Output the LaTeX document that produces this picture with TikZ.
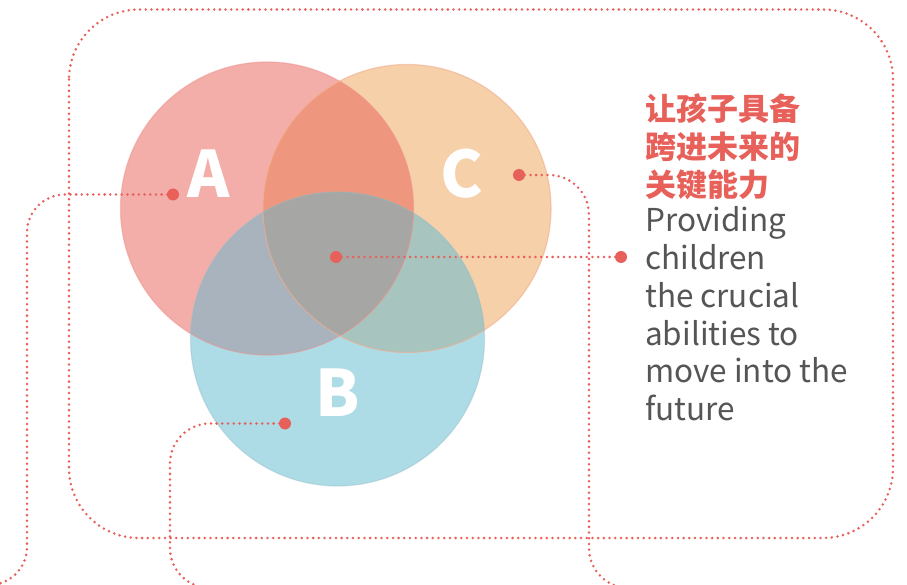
\documentclass[tikz,border=0pt]{standalone}
\usepackage{fontspec}
\usepackage{xcolor}
\usepackage{tikz}
\usetikzlibrary{positioning}
\newfontfamily\cjk{Noto Sans CJK SC}

\definecolor{accent}{HTML}{E8605A}
\definecolor{textgray}{HTML}{555555}
\definecolor{fillA}{HTML}{F3AEAA}
\definecolor{fillB}{HTML}{ADDCE7}
\definecolor{fillC}{HTML}{F6D0A9}
\definecolor{fillAB}{HTML}{A8B3BD}
\definecolor{fillAC}{HTML}{EE977E}
\definecolor{fillBC}{HTML}{A8C4BE}
\definecolor{fillABC}{HTML}{A6A6A4}

\tikzset{
    link/.style={accent, line width=2.8pt, line cap=round, dash pattern=on 0pt off 5.7pt, rounded corners=38pt},
    dot/.style={circle, fill=accent, inner sep=0pt, minimum size=12pt},
    letter/.style={anchor=base, text=white, font=\cjk\bfseries\fontsize{64}{64}\selectfont},
    cntitle/.style={anchor=base west, inner sep=0pt, text=accent, font=\cjk\bfseries\fontsize{31}{31}\selectfont},
    entext/.style={anchor=base west, inner sep=0pt, text=textgray, font=\cjk\fontsize{31.5}{31.5}\selectfont},
}

\begin{document}
\begin{tikzpicture}[x=1pt, y=-1pt]
    \useasboundingbox (0,0) rectangle (907,585);
    \clip (0,0) rectangle (907,585);

    % Venn circles
    \coordinate (A) at (267,208.5);
    \coordinate (B) at (337.5,339);
    \coordinate (C) at (407,208.5);
    \fill[fillA] (A) circle[radius=146.5pt];
    \fill[fillC] (C) circle[radius=144pt];
    \fill[fillB] (B) circle[radius=147pt];

    % Overlaps
    \begin{scope}
        \clip (C) circle[radius=144pt];
        \fill[fillBC] (B) circle[radius=147pt];
    \end{scope}
    \begin{scope}
        \clip (A) circle[radius=146.5pt];
        \fill[fillAC] (C) circle[radius=144pt];
        \fill[fillAB] (B) circle[radius=147pt];
        \clip (C) circle[radius=144pt];
        \fill[fillABC] (B) circle[radius=147pt];
    \end{scope}

    % Rims
    \draw[accent!40!fillA, line width=1.2pt, opacity=0.5] (A) circle[radius=146.5pt];
    \draw[accent!30!fillC, line width=1.2pt, opacity=0.6] (C) circle[radius=144pt];
    \draw[fillB!85!black, line width=1.2pt, opacity=0.4] (B) circle[radius=147pt];

    % Letters
    \node[letter] (labA) at (208.5,198) {A};
    \node[letter] (labC) at (461.5,198) {C};
    \node[letter] (labB) at (337.5,416) {B};

    % Frame
    \draw[link, rounded corners=70pt] (69,9.5) rectangle (893,538);

    % Markers
    \node[dot] (dotA) at (173,194.5) {};
    \node[dot] (dotC) at (519,175) {};
    \node[dot] (dotB) at (285,423.5) {};
    \node[dot] (dotM) at (336,257) {};
    \node[dot] (dotR) at (621,257) {};

    % Leaders
    \draw[link] (dotA.center) -- (27,194.5) -- (27,585) -- (-40,585);
    \draw[link, rounded corners=40pt] (dotB.center) -- (170,423.5) -- (170,588) -- (260,588);
    \draw[link, rounded corners=40pt] (dotC.center) -- (589,175) -- (589,588) -- (680,588);
    \draw[link] (dotM.center) -- (dotR.center);

    % Caption
    \foreach \txt [count=\i from 0] in {让孩子具备, 跨进未来的, 关键能力}
        \node[cntitle] (cn\i) at (645,120.5+38*\i) {\txt};
    \foreach \txt [count=\i from 0] in {Providing, children, the crucial, abilities to, move into the, future}
        \node[entext] (en\i) at (645,232+37.7*\i) {\txt};
\end{tikzpicture}
\end{document}
